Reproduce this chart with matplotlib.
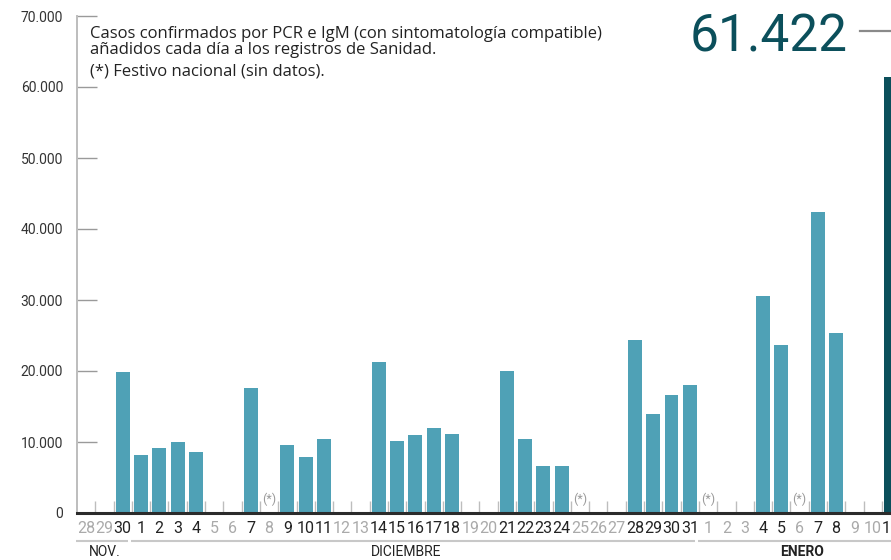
import matplotlib
matplotlib.use("Agg")
import matplotlib.pyplot as plt
from matplotlib.ticker import FuncFormatter, FixedLocator

plt.rcParams['font.family'] = ['Roboto', 'DejaVu Sans']

# ---- data ----
day_labels = ["28", "29", "30"] + [str(d) for d in range(1, 32)] + [str(d) for d in range(1, 12)]
values_nov = [None, None, 19860]
values_dec = [8170, 9150, 10000, 8590, None, None, 17600, None, 9580, 7890, 10420,
              None, None, 21270, 10140, 10990, 11970, 11130, None, None, 20000,
              10420, 6620, 6620, None, None, None, 24370, 13940, 16620, 18030]
values_jan = [None, None, None, 30560, 23660, None, 42390, 25350, None, None, 61422]
values = values_nov + values_dec + values_jan
holidays = ["8 dic", "25 dic", "1 ene", "6 ene"]
holiday_idx = [3 + 7, 3 + 24, 34 + 0, 34 + 5]
months = ["NOV.", "DICIEMBRE", "ENERO"]
month_ranges = [(0, 2), (3, 33), (34, 44)]
highlight_label = "61.422"

BAR = "#4fa1b6"
DARK = "#0b4f5b"

fig = plt.figure(figsize=(8.91, 5.6), dpi=100)
W, H = 891, 560
px_per_day = 18.41
x0 = 86.2  # pixel centre of index 0
left_px = 77.0
right_px = 891.0
ax = fig.add_axes([left_px / W, (H - 513) / H, (right_px - left_px) / W, (513 - 16) / H])
xmin = (left_px - x0) / px_per_day
xmax = (right_px - x0) / px_per_day
ax.set_xlim(xmin, xmax)
ax.set_ylim(0, 70000)

last = len(values) - 1
for i, v in enumerate(values):
    if v is None:
        continue
    ax.bar(i, v, width=0.76, color=DARK if i == last else BAR, zorder=2)

# spines
for s in ["top", "right"]:
    ax.spines[s].set_visible(False)
ax.spines["left"].set_color("#bdbdbd")
ax.spines["left"].set_linewidth(1.4)
ax.spines["bottom"].set_color("#2b2b2b")
ax.spines["bottom"].set_linewidth(2.2)
ax.spines["bottom"].set_zorder(3)

# y ticks
ax.set_yticks(range(0, 70001, 10000))
ax.yaxis.set_major_formatter(FuncFormatter(lambda v, p: f"{int(v):,}".replace(",", ".")))
ax.tick_params(axis="y", direction="in", length=14.5, width=1.0, color="#9a9a9a",
               labelsize=10, labelcolor="#333333", pad=10)

# x ticks: labels at each day, boundary marks as minor ticks
ax.set_xticks(range(len(day_labels)))
ax.set_xticklabels(day_labels)
ax.xaxis.set_minor_locator(FixedLocator([i + 0.5 for i in range(len(day_labels))]))
ax.tick_params(axis="x", which="major", length=0, pad=6, labelsize=11.5)
ax.tick_params(axis="x", which="minor", direction="in", length=9, width=1.0, color="#bdbdbd")
for i, t in enumerate(ax.get_xticklabels()):
    t.set_color("#222222" if values[i] is not None else "#aaaaaa")

# holiday markers
trans = ax.get_xaxis_transform()
for i in holiday_idx:
    ax.text(i, 0.028, "(*)", transform=trans, ha="center", va="center",
            fontsize=9, color="#9a9a9a")

# month brackets
line_y = (513 - 541) / 497
text_y = (513 - 545.5) / 497
month_text_x = [1.0, 17.5, 39.15]
for (a, b), name, tx in zip(month_ranges, months, month_text_x):
    xa = a - 0.55
    xb = b + 0.3
    ax.plot([xa, xb], [line_y, line_y], transform=trans, color="#c8c8c8", lw=1.5,
            clip_on=False, solid_capstyle="butt")
    ax.text(tx, text_y, name, transform=trans, ha="center", va="top", fontsize=10,
            color="#222222", fontweight="bold" if name == "ENERO" else "normal")

# annotation text
note_font = ['Open Sans', 'DejaVu Sans']
fig.text(89.5 / W, 1 - 37.5 / H, "Casos confirmados por PCR e IgM (con sintomatología compatible)",
         fontsize=12, color="#222222", ha="left", va="baseline", family=note_font)
fig.text(89.5 / W, 1 - 53.5 / H, "añadidos cada día a los registros de Sanidad.",
         fontsize=12, color="#222222", ha="left", va="baseline", family=note_font)
fig.text(89.5 / W, 1 - 76 / H, "(*) Festivo nacional (sin datos).",
         fontsize=12, color="#222222", ha="left", va="baseline", family=note_font)

# highlighted value
fig.text(848 / W, 1 - 52 / H, highlight_label, fontsize=37, color=DARK,
         ha="right", va="baseline")
fig.add_artist(plt.Line2D([860 / W, 1.0], [1 - 31 / H, 1 - 31 / H], color="#8a8a8a", lw=1.6))

fig.savefig("out.png", dpi=100)
